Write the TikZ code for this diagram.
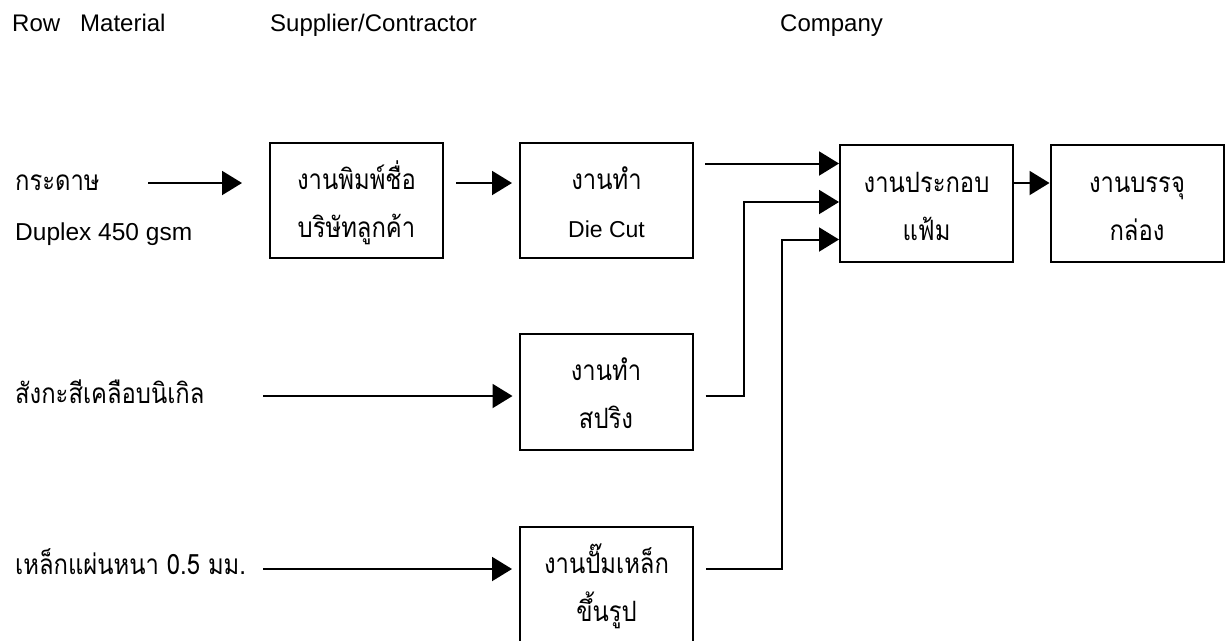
\documentclass[tikz,border=0pt]{standalone}
\usepackage{fontspec}
\setmainfont{Liberation Sans}
\newfontfamily\thai[Script=Thai,FakeStretch=0.85]{Loma}
\usetikzlibrary{arrows.meta}
\newcommand\topst{\rule{0pt}{40pt}}
\newcommand\botst{\rule[-15pt]{0pt}{0pt}}
\tikzset{
  box/.style={draw, line width=2pt, minimum width=173pt, minimum height=115pt,
    inner sep=0pt, align=center, font=\thai\fontsize{28}{48}\selectfont},
  lbl/.style={inner sep=0pt, anchor=west, font=\thai\fontsize{28}{30}\selectfont},
  hdr/.style={inner sep=0pt, anchor=base west, font=\fontsize{24}{28}\selectfont},
  flow/.style={line width=2pt, -{Triangle[length=20pt,width=24pt]}},
}
\begin{document}
\begin{tikzpicture}[x=1pt,y=-1pt]
\useasboundingbox (0,0) rectangle (1225,640);
% headers
\node[hdr] (h1) at (12,31) {Row\ \ \ Material};
\node[hdr] (h2) at (270,31) {Supplier/Contractor};
\node[hdr] (h3) at (780,31) {Company};
% raw material labels
\node[lbl] (m1) at (15,183) {กระดาษ};
\node[hdr, font=\fontsize{24.5}{28}\selectfont] (m1b) at (15,240) {Duplex 450 gsm};
\node[lbl] (m2) at (15,392) {สังกะสีเคลือบนิเกิล};
\node[lbl] (m3) at (15,562) {เหล็กแผ่นหนา 0.5 มม.};
% boxes
\node[box] (b1) at (356.5,200.5) {\topst งานพิมพ์ชื่อ\\บริษัทลูกค้า\botst};
\node[box] (b2) at (606.5,200.5) {\topst งานทำ\\{\fontspec{Liberation Sans}\fontsize{23}{48}\selectfont Die Cut}\botst};
\node[box, minimum height=117pt] (b3) at (926.5,203.5) {\topst งานประกอบ\\แฟ้ม\botst};
\node[box, minimum height=117pt] (b4) at (1137,203.5) {\topst งานบรรจุ\\กล่อง\botst};
\node[box, minimum height=116pt] (b5) at (606,392) {\topst งานทำ\\สปริง\botst};
\node[box] (b6) at (606.5,584.5) {\topst งานปั๊มเหล็ก\\ขึ้นรูป\botst};
% helper coordinates
\coordinate (s1) at (148,183);
\coordinate (s7) at (263,396);
\coordinate (s8) at (263,569);
\coordinate (p1) at (744,0);
\coordinate (p2) at (782,0);
\coordinate (in1) at ([yshift=40pt]b3.west);
\coordinate (in2) at ([yshift=1.5pt]b3.west);
\coordinate (in3) at ([yshift=-36pt]b3.west);
% connectors
\draw[flow] (s1) -- ([xshift=-27pt]b1.west |- s1);
\draw[flow] ([xshift=12pt]b1.east |- s1) -- ([xshift=-7pt]b2.west |- s1);
\draw[flow] ([xshift=11pt]b2.east |- in1) -- (in1);
\draw[flow] ([xshift=12pt]b5.east |- s7) -- (p1 |- s7) -- (p1 |- in2) -- (in2);
\draw[flow] ([xshift=12pt]b6.east |- s8) -- (p2 |- s8) -- (p2 |- in3) -- (in3);
\draw[flow] ([yshift=20.5pt]b3.east) -- ([yshift=20.5pt]b3.east -| b4.west);
\draw[flow] (s7) -- ([xshift=-6pt]b5.west |- s7);
\draw[flow] (s8) -- ([xshift=-7pt]b6.west |- s8);
\end{tikzpicture}
\end{document}
